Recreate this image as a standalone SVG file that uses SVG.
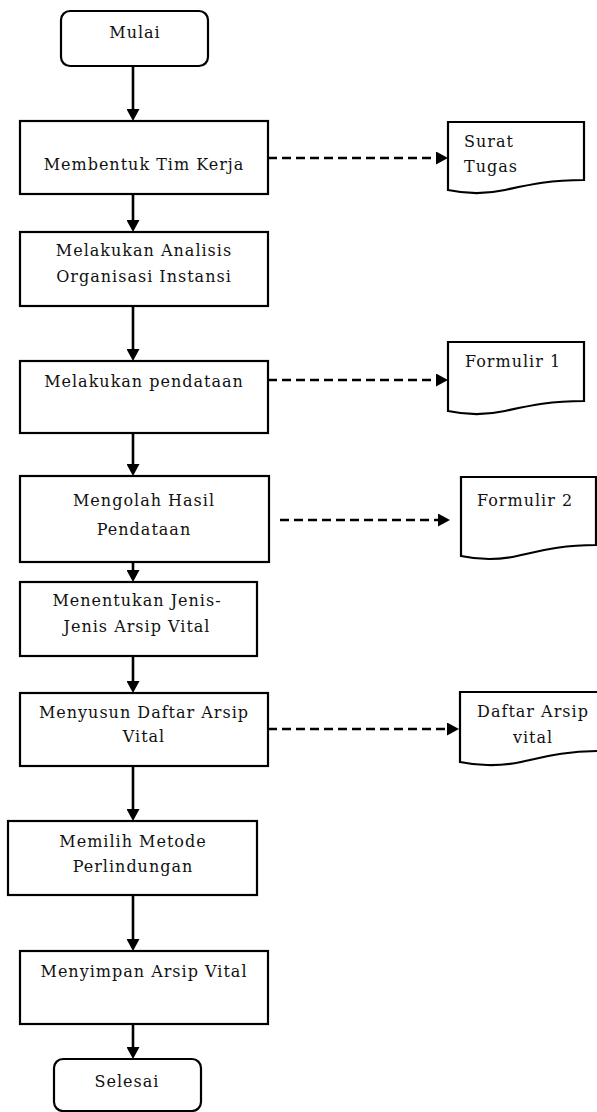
<svg xmlns="http://www.w3.org/2000/svg" width="597" height="1112" viewBox="0 0 597 1112">
<style>
  .box { fill: #fff; stroke: #000; stroke-width: 2.2; }
  .doc { fill: #fff; stroke: #000; stroke-width: 2.2; stroke-linejoin: miter; }
  .t { font-family: "DejaVu Serif", "Liberation Serif", serif; font-size: 16px; letter-spacing: 1px; fill: #111; }
  .c { text-anchor: middle; }
  .flow { fill: none; stroke: #000; stroke-width: 2.6; }
  .dash { fill: none; stroke: #000; stroke-width: 2.6; stroke-dasharray: 9 5; }
</style>
<defs>
  <marker id="ah" markerUnits="userSpaceOnUse" markerWidth="12" markerHeight="13" refX="4" refY="6.5" orient="auto">
    <path d="M0,0 L12,6.5 L0,13 Z" fill="#000"/>
  </marker>
</defs>

<g id="connectors">
  <line class="flow" x1="133" y1="66" x2="133" y2="113" marker-end="url(#ah)"/>
  <line class="flow" x1="133" y1="194" x2="133" y2="224" marker-end="url(#ah)"/>
  <line class="flow" x1="133" y1="306" x2="133" y2="353" marker-end="url(#ah)"/>
  <line class="flow" x1="133" y1="433" x2="133" y2="468" marker-end="url(#ah)"/>
  <line class="flow" x1="133" y1="562" x2="133" y2="574" marker-end="url(#ah)"/>
  <line class="flow" x1="133" y1="656" x2="133" y2="685" marker-end="url(#ah)"/>
  <line class="flow" x1="133" y1="766" x2="133" y2="813" marker-end="url(#ah)"/>
  <line class="flow" x1="133" y1="895" x2="133" y2="943" marker-end="url(#ah)"/>
  <line class="flow" x1="133" y1="1024" x2="133" y2="1051" marker-end="url(#ah)"/>
  <line class="dash" x1="268" y1="158" x2="440" y2="158" marker-end="url(#ah)"/>
  <line class="dash" x1="268" y1="380" x2="440" y2="380" marker-end="url(#ah)"/>
  <line class="dash" x1="280" y1="520" x2="442" y2="520" marker-end="url(#ah)"/>
  <line class="dash" x1="268" y1="729" x2="451" y2="729" marker-end="url(#ah)"/>
</g>

<g id="start">
  <rect class="box" x="61" y="11" width="147" height="55" rx="9"/>
  <text class="t c" x="135" y="38">Mulai</text>
</g>
<g id="n1">
  <rect class="box" x="20" y="121" width="248" height="73"/>
  <text class="t c" x="144" y="170">Membentuk Tim Kerja</text>
</g>
<g id="n2">
  <rect class="box" x="20" y="232" width="248" height="74"/>
  <text class="t c" x="144" y="256">Melakukan Analisis</text>
  <text class="t c" x="144" y="282">Organisasi Instansi</text>
</g>
<g id="n3">
  <rect class="box" x="20" y="361" width="248" height="72"/>
  <text class="t c" x="144" y="387">Melakukan pendataan</text>
</g>
<g id="n4">
  <rect class="box" x="20" y="476" width="249" height="86"/>
  <text class="t c" x="144" y="506">Mengolah Hasil</text>
  <text class="t c" x="144" y="535">Pendataan</text>
</g>
<g id="n5">
  <rect class="box" x="20" y="582" width="237" height="74"/>
  <text class="t c" x="137" y="606">Menentukan Jenis-</text>
  <text class="t c" x="137" y="632">Jenis Arsip Vital</text>
</g>
<g id="n6">
  <rect class="box" x="20" y="693" width="248" height="73"/>
  <text class="t c" x="144" y="718">Menyusun Daftar Arsip</text>
  <text class="t c" x="144" y="742">Vital</text>
</g>
<g id="n7">
  <rect class="box" x="8" y="821" width="249" height="74"/>
  <text class="t c" x="133" y="847">Memilih Metode</text>
  <text class="t c" x="133" y="872">Perlindungan</text>
</g>
<g id="n8">
  <rect class="box" x="20" y="951" width="248" height="73"/>
  <text class="t c" x="144" y="977">Menyimpan Arsip Vital</text>
</g>
<g id="end">
  <rect class="box" x="54" y="1059" width="147" height="52" rx="9"/>
  <text class="t c" x="127" y="1087">Selesai</text>
</g>

<g id="d1">
  <path class="doc" d="M448,122 H584 V180 C548,180 528,185 505,190 C482,195 462,193 448,190 Z"/>
  <text class="t" x="464" y="147">Surat</text>
  <text class="t" x="464" y="172">Tugas</text>
</g>
<g id="d2">
  <path class="doc" d="M448,342 H584 V401 C548,401 528,406 505,411 C482,416 462,414 448,411 Z"/>
  <text class="t" x="465" y="367">Formulir 1</text>
</g>
<g id="d3">
  <path class="doc" d="M461,477 H596 V545 C560,545 540,551 517,556 C494,561 475,559 461,556 Z"/>
  <text class="t" x="477" y="506">Formulir 2</text>
</g>
<g id="d4">
  <path class="doc" d="M460,692 H600 V751 C564,751 544,757 521,762 C498,767 474,765 460,762 Z"/>
  <text class="t c" x="533" y="717">Daftar Arsip</text>
  <text class="t c" x="533" y="743">vital</text>
</g>
</svg>
